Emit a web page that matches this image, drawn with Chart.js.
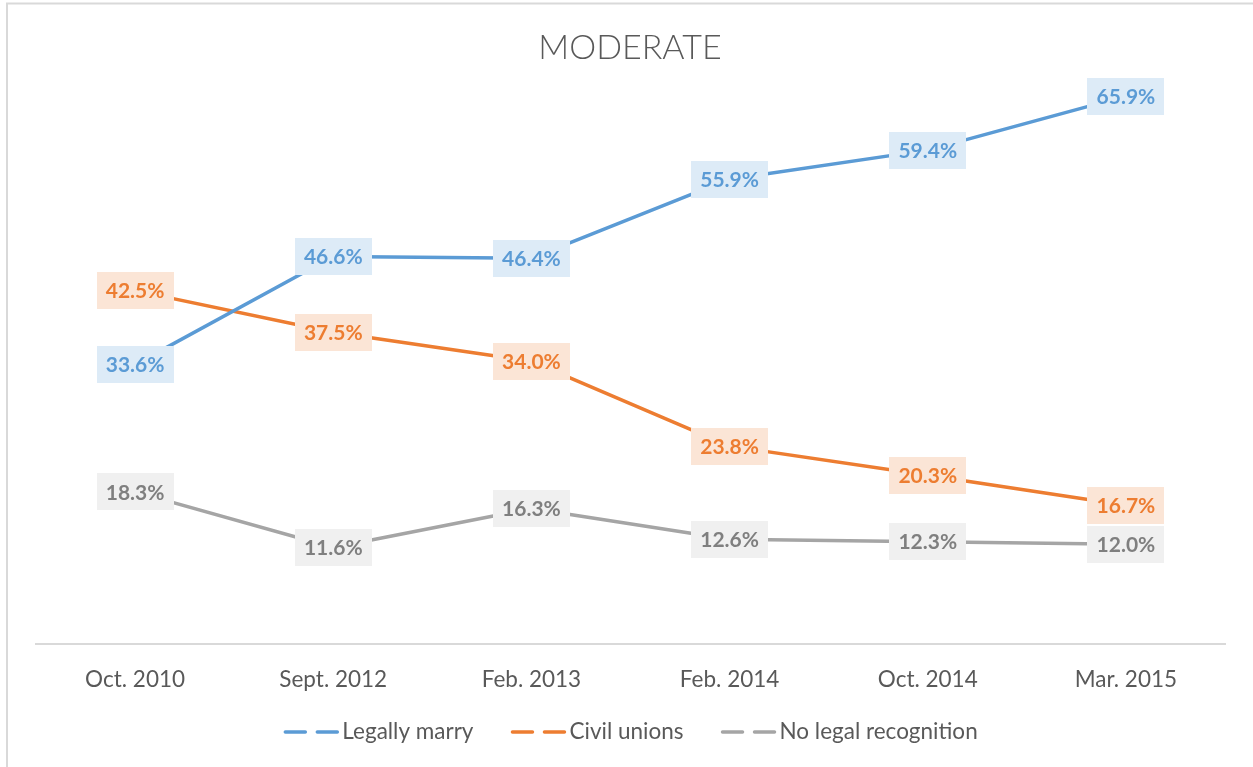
<!DOCTYPE html>
<html>
<head>
<meta charset="utf-8">
<script src="https://cdn.jsdelivr.net/npm/chart.js@4/dist/chart.umd.min.js"></script>
<style>
html,body{margin:0;padding:0;background:#fff;}
#wrap{position:relative;width:1253px;height:767px;}
</style>
</head>
<body>
<div id="wrap"><canvas id="c" width="1253" height="767"></canvas></div>
<script>
const categories = ['Oct. 2010', 'Sept. 2012', 'Feb. 2013', 'Feb. 2014', 'Oct. 2014', 'Mar. 2015'];
const legallyMarry = [33.6, 46.6, 46.4, 55.9, 59.4, 65.9];
const civilUnions = [42.5, 37.5, 34.0, 23.8, 20.3, 16.7];
const noLegalRecognition = [18.3, 11.6, 16.3, 12.6, 12.3, 12.0];
const seriesNames = ['Legally marry', 'Civil unions', 'No legal recognition'];
const chartTitle = 'MODERATE';

const lineColors = ['#5B9BD5', '#ED7D31', '#A5A5A5'];
const labelBg = ['#DDEBF7', '#FBE5D6', '#F0F0F0'];
const labelFg = ['#5B9BD5', '#ED7D31', '#7F7F7F'];

const decorPlugin = {
  id: 'decor',
  beforeDraw(chart) {
    const ctx = chart.ctx;
    ctx.save();
    ctx.fillStyle = '#fff';
    ctx.fillRect(0, 0, chart.width, chart.height);
    ctx.strokeStyle = '#D9D9D9';
    ctx.lineWidth = 2;
    ctx.beginPath();
    ctx.moveTo(7, 767); ctx.lineTo(7, 3.5); ctx.lineTo(1253, 3.5);
    ctx.stroke();
    // title
    ctx.fillStyle = '#595959';
    ctx.font = '300 34px Lato';
    ctx.textAlign = 'center';
    ctx.textBaseline = 'middle';
    ctx.fillText(chartTitle, 630, 48);
    ctx.restore();
  },
  afterDatasetsDraw(chart) {
    const ctx = chart.ctx;
    ctx.save();
    ctx.font = 'bold 21px Lato';
    ctx.textAlign = 'center';
    ctx.textBaseline = 'middle';
    chart.data.datasets.forEach((ds, di) => {
      const meta = chart.getDatasetMeta(di);
      meta.data.forEach((pt, i) => {
        const w = 77, h = 37;
        ctx.fillStyle = labelBg[di];
        ctx.fillRect(Math.round(pt.x - w / 2), Math.round(pt.y - h / 2), w, h);
        ctx.fillStyle = labelFg[di];
        ctx.fillText(ds.data[i].toFixed(1) + '%', pt.x, pt.y + 1);
      });
    });
    // legend
    ctx.font = '22.5px Lato';
    ctx.textAlign = 'left';
    const markerW = 54, gapText = 4, gapItem = 38;
    const widths = seriesNames.map(n => ctx.measureText(n).width);
    let total = 0;
    widths.forEach((w, i) => { total += markerW + gapText + w + (i < widths.length - 1 ? gapItem : 0); });
    let x = 631 - total / 2;
    const y = 732;
    seriesNames.forEach((n, i) => {
      ctx.strokeStyle = lineColors[i];
      ctx.lineWidth = 3.5;
      ctx.lineCap = 'round';
      ctx.beginPath();
      ctx.moveTo(x + 1, y); ctx.lineTo(x + 21, y);
      ctx.moveTo(x + 33, y); ctx.lineTo(x + 53, y);
      ctx.stroke();
      ctx.fillStyle = '#595959';
      ctx.fillText(n, x + markerW + gapText, y);
      x += markerW + gapText + widths[i] + gapItem;
    });
    ctx.restore();
  }
};

new Chart(document.getElementById('c'), {
  type: 'line',
  data: {
    labels: categories,
    datasets: [
      { label: seriesNames[0], data: legallyMarry, borderColor: lineColors[0] },
      { label: seriesNames[1], data: civilUnions, borderColor: lineColors[1] },
      { label: seriesNames[2], data: noLegalRecognition, borderColor: lineColors[2] }
    ]
  },
  options: {
    responsive: false,
    animation: false,
    events: [],
    layout: { padding: { left: 36, right: 28, top: 62, bottom: 0 } },
    elements: {
      line: { borderWidth: 3.5, tension: 0, borderCapStyle: 'round', borderJoinStyle: 'round' },
      point: { radius: 0, hoverRadius: 0 }
    },
    plugins: { legend: { display: false }, title: { display: false }, tooltip: { enabled: false } },
    scales: {
      y: { display: false, min: 0, max: 70 },
      x: {
        offset: true,
        grid: { display: false, drawTicks: false },
        border: { display: true, color: '#D9D9D9', width: 2 },
        ticks: { color: '#595959', font: { family: 'Lato', size: 22.5 }, padding: 22, maxRotation: 0 },
        afterFit(s) { s.height = 123; }
      }
    }
  },
  plugins: [decorPlugin]
});
</script>
</body>
</html>
